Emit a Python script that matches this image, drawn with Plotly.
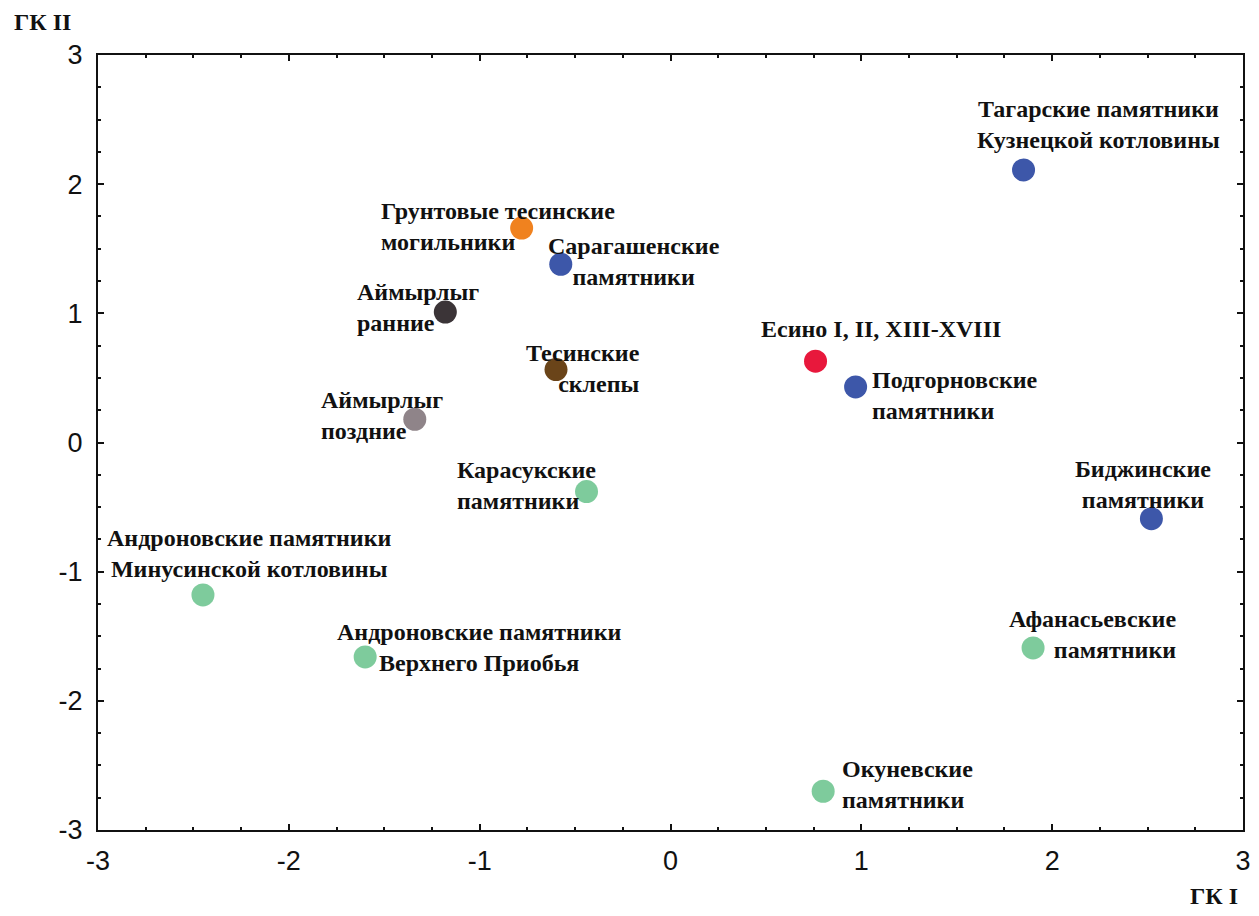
import plotly.graph_objects as go

# --- data ---
labels = [
    "Тагарские памятники<br>Кузнецкой котловины",
    "Грунтовые тесинские<br>могильники",
    "Сарагашенские<br>памятники",
    "Аймырлыг<br>ранние",
    "Тесинские<br>склепы",
    "Есино I, II, XIII-XVIII",
    "Подгорновские<br>памятники",
    "Аймырлыг<br>поздние",
    "Карасукские<br>памятники",
    "Биджинские<br>памятники",
    "Андроновские памятники<br>Минусинской котловины",
    "Андроновские памятники<br>Верхнего Приобья",
    "Афанасьевские<br>памятники",
    "Окуневские<br>памятники",
]
gk1 = [1.85, -0.78, -0.575, -1.18, -0.60, 0.76, 0.97, -1.34, -0.44, 2.52, -2.45, -1.60, 1.90, 0.80]
gk2 = [2.11, 1.66, 1.38, 1.01, 0.565, 0.63, 0.43, 0.18, -0.38, -0.59, -1.18, -1.66, -1.59, -2.70]
group = ["tagar", "tes_grunt", "tagar", "aim_early", "tes_sklep", "esino", "tagar",
         "aim_late", "bronze", "tagar", "bronze", "bronze", "bronze", "bronze"]

tick_vals = [-3, -2, -1, 0, 1, 2, 3]
tick_text = ["-3", "-2", "-1", "0", "1", "2", "3"]

# --- styling ---
colors = {
    "tagar": "#3d57a9",
    "tes_grunt": "#f0821f",
    "aim_early": "#3b3437",
    "tes_sklep": "#6a4419",
    "esino": "#e8183c",
    "aim_late": "#8f8489",
    "bronze": "#7ecb9c",
}
# (xanchor, xshift, yshift, align) per label
label_pos = [
    ("center", 75, 45, "center"),
    ("left", -143, 2, "left"),
    ("center", 73, 3, "center"),
    ("left", -90, 5, "left"),
    ("right", 86, 1, "right"),
    ("center", 65, 32, "center"),
    ("left", 14, -9, "left"),
    ("left", -96, 4, "left"),
    ("left", -132, 6, "left"),
    ("center", -8, 34, "center"),
    ("center", 47, 41, "center"),
    ("center", 114, 9, "center"),
    ("right", 145, 13, "right"),
    ("left", 17, 7, "left"),
]

label_font = dict(family="Liberation Serif, Times New Roman, serif", size=24, color="#111")

fig = go.Figure()
fig.add_trace(go.Scatter(
    x=gk1, y=gk2, mode="markers",
    marker=dict(size=23, color=[colors[g] for g in group], line=dict(width=0)),
    hoverinfo="skip", showlegend=False,
))

for lab, x, y, (xa, xs, ys, al) in zip(labels, gk1, gk2, label_pos):
    fig.add_annotation(
        x=x, y=y, text="<b>" + lab + "</b>", showarrow=False,
        xanchor=xa, yanchor="middle", xshift=xs, yshift=ys, align=al,
        font=label_font,
    )

fig.add_annotation(x=-0.0488, y=1.0426, xref="paper", yref="paper", text="<b>ГК II</b>",
                   xanchor="center", yanchor="middle", showarrow=False, font=label_font)
fig.add_annotation(x=1.0, y=-0.0903, xref="paper", yref="paper", text="<b>ГК I</b>",
                   xanchor="right", yanchor="middle", xshift=-3, yshift=4,
                   showarrow=False, font=label_font)

axis_common = dict(
    range=[-3, 3], tickmode="array", tickvals=tick_vals, ticktext=tick_text,
    showgrid=False, zeroline=False, automargin=False, ticklabeloverflow="allow",
    showline=True, linecolor="#111", linewidth=2, mirror="ticks",
    ticks="inside", ticklen=6, tickwidth=1.5, tickcolor="#111",
    minor=dict(tick0=0, dtick=0.25, ticks="inside", ticklen=3, tickcolor="#111", showgrid=False),
    tickfont=dict(family="Liberation Sans, Arial, sans-serif", size=27, color="#111"),
)
fig.update_xaxes(**axis_common, ticklabelstandoff=6)
fig.update_yaxes(**axis_common, ticklabelstandoff=8)

# page body adds an 8px margin, so the figure is sized to fit inside the window
fig.update_layout(
    width=1243, height=900,
    margin=dict(l=90, r=8, t=47, b=78),
    plot_bgcolor="white", paper_bgcolor="white",
)

fig.write_html("out.html")
